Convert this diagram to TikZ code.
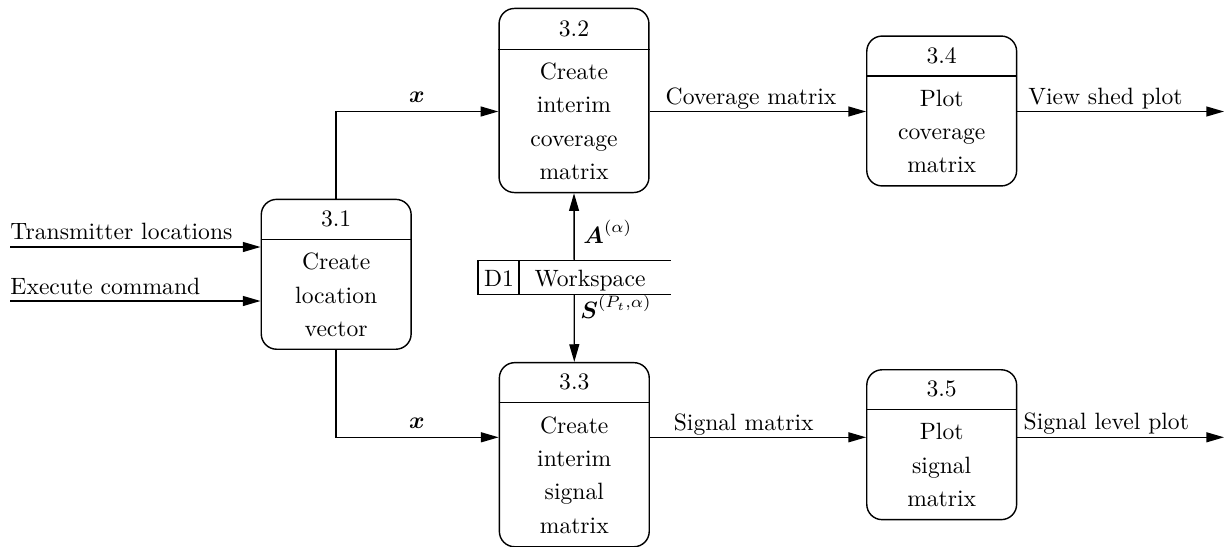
\documentclass[tikz,border=0pt]{standalone}
\usepackage{amsmath}
\usetikzlibrary{arrows.meta,calc}
\tikzset{
  x=0.4237pt, y=-0.4237pt,
  proc/.style={draw, line width=0.6pt, rounded corners=6.5pt, minimum width=63.5pt, inner sep=0pt},
  divider/.style={line width=0.6pt},
  ptitle/.style={inner sep=0pt, font=\fontsize{10}{12}\selectfont},
  pbody/.style={inner sep=0pt, align=center, font=\fontsize{10}{14.1}\selectfont},
  lab/.style={inner sep=0pt, anchor=base, font=\fontsize{10}{12}\selectfont},
  flow/.style={line width=0.6pt, -{Triangle[length=7.5pt,width=4.2pt]}},
  storeline/.style={line width=0.6pt}
}
\begin{document}
\begin{tikzpicture}
\useasboundingbox (0,0) rectangle (1226,547);

% process 3.1
\node[proc, minimum height=63.5pt] (p31) at (336.2,274.3) {};
\draw[divider] ($(p31.north west)+(0,41)$) -- ($(p31.north east)+(0,41)$);
\node[ptitle] (p31t) at ($(p31.north)+(0,20.5)$) {3.1};
\node[pbody] (p31b) at (336.2,295) {Create\\location\\vector};

% process 3.2
\node[proc, minimum height=78pt] (p32) at (574,100.5) {};
\draw[divider] ($(p32.north west)+(0,41.7)$) -- ($(p32.north east)+(0,41.7)$);
\node[ptitle] (p32t) at ($(p32.north)+(0,20.8)$) {3.2};
\node[pbody] (p32b) at (574,121.4) {Create\\interim\\coverage\\matrix};

% process 3.3
\node[proc, minimum height=78pt] (p33) at (574.3,454.7) {};
\draw[divider] ($(p33.north west)+(0,40.6)$) -- ($(p33.north east)+(0,40.6)$);
\node[ptitle] (p33t) at ($(p33.north)+(0,20.3)$) {3.3};
\node[pbody] (p33b) at (574.3,475) {Create\\interim\\signal\\matrix};

% process 3.4
\node[proc, minimum height=63.5pt] (p34) at (941.7,111) {};
\draw[divider] ($(p34.north west)+(0,40.7)$) -- ($(p34.north east)+(0,40.7)$);
\node[ptitle] (p34t) at ($(p34.north)+(0,20.3)$) {3.4};
\node[pbody] (p34b) at (941.7,131.4) {Plot\\coverage\\matrix};

% process 3.5
\node[proc, minimum height=63.5pt] (p35) at (941.7,444.7) {};
\draw[divider] ($(p35.north west)+(0,40.7)$) -- ($(p35.north east)+(0,40.7)$);
\node[ptitle] (p35t) at ($(p35.north)+(0,20.3)$) {3.5};
\node[pbody] (p35b) at (941.7,465) {Plot\\signal\\matrix};

% data store D1
\node[minimum width=81.2pt, minimum height=14.2pt, inner sep=0pt] (ds) at (574.2,277.5) {};
\draw[storeline] (ds.north east) -- (ds.north west) -- (ds.south west) -- (ds.south east);
\draw[storeline] ($(ds.north west)+(41,0)$) -- ($(ds.south west)+(41,0)$);
\node[lab] (dsid) at (499,286.7) {D1};
\node[lab] (dsname) at (590,286.7) {Workspace};

% reference rows and free ends
\coordinate (r1) at (0,111.5);
\coordinate (r2) at (0,437.3);
\coordinate (in1) at (10,247);
\coordinate (in2) at (10,301);
\coordinate (out1) at (1224,111.5);
\coordinate (out2) at (1224,437.3);

% flows
\draw[flow] (in1) -- (in1 -| p31.west);
\draw[flow] (in2) -- (in2 -| p31.west);
\draw[flow] (p31.north) |- (p32.west |- r1);
\draw[flow] (p31.south) |- (p33.west |- r2);
\draw[flow] (p32.east |- r1) -- (p34.west |- r1);
\draw[flow] (p34.east |- r1) -- (out1);
\draw[flow] (p33.east |- r2) -- (p35.west |- r2);
\draw[flow] (p35.east |- r2) -- (out2);
\draw[flow] (ds.north) -- (p32.south);
\draw[flow] (ds.south) -- (p33.north);

% flow labels
\node[lab, anchor=base west] (lin1) at (10,239.3) {Transmitter locations};
\node[lab, anchor=base west] (lin2) at (10,294) {Execute command};
\node[lab] (lx1) at (417,102.7) {$\boldsymbol{x}$};
\node[lab] (lx2) at (417,428.5) {$\boldsymbol{x}$};
\node[lab] (lcov) at (751,104.3) {Coverage matrix};
\node[lab] (lview) at (1105.4,104.3) {View shed plot};
\node[lab] (lsig) at (743.7,430) {Signal matrix};
\node[lab] (llev) at (1106.3,429.5) {Signal level plot};
\node[lab, anchor=base west] (lA) at (583,243.3) {$\boldsymbol{A}^{(\alpha)}$};
\node[lab, anchor=base west] (lS) at (580,318.3) {$\boldsymbol{S}^{(P_t,\alpha)}$};
\end{tikzpicture}
\end{document}
